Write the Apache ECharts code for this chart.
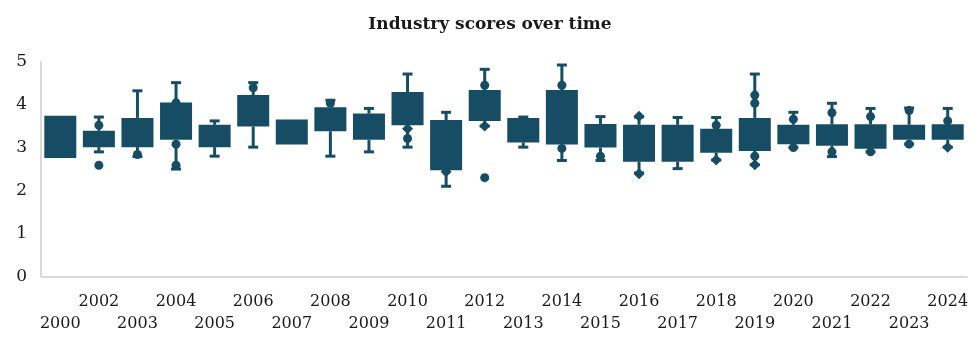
<!DOCTYPE html>
<html>
<head>
<meta charset="utf-8">
<script src="https://cdn.jsdelivr.net/npm/echarts@6/dist/echarts.min.js"></script>
<style>
  html, body { margin: 0; padding: 0; background: #fff; }
  #chart { width: 980px; height: 353px; }
</style>
</head>
<body>
<div id="chart"></div>
<script>
// years on the axis (2001 is not in the data)
var YEARS = ['2000', '2002', '2003', '2004', '2005', '2006', '2007', '2008', '2009', '2010', '2011', '2012',
  '2013', '2014', '2015', '2016', '2017', '2018', '2019', '2020', '2021', '2022', '2023', '2024'];
var LOWS  = [2.77, 2.91, 2.80, 2.51, 2.81, 3.02, 3.08, 2.81, 2.91, 3.02, 2.11, 3.51,
  3.02, 2.71, 2.71, 2.42, 2.52, 2.72, 2.61, 3.01, 2.80, 2.91, 3.09, 3.02];
var Q1S   = [2.77, 3.02, 3.02, 3.19, 3.02, 3.50, 3.08, 3.39, 3.19, 3.53, 2.48, 3.63,
  3.13, 3.08, 3.01, 2.68, 2.68, 2.89, 2.93, 3.09, 3.05, 2.98, 3.19, 3.19];
var Q3S   = [3.75, 3.40, 3.70, 4.06, 3.54, 4.23, 3.66, 3.95, 3.80, 4.30, 3.65, 4.35,
  3.70, 4.35, 3.56, 3.54, 3.54, 3.45, 3.70, 3.54, 3.55, 3.55, 3.54, 3.55];
var HIGHS = [3.75, 3.72, 4.33, 4.52, 3.63, 4.52, 3.66, 4.11, 3.92, 4.72, 3.83, 4.83,
  3.72, 4.93, 3.73, 3.72, 3.71, 3.71, 4.72, 3.83, 4.04, 3.92, 3.93, 3.92];

// single points drawn over the whiskers
var CIRCLE_POINTS = [
  ['2002', 3.53], ['2002', 2.60], ['2003', 2.85], ['2004', 4.05], ['2004', 3.09], ['2004', 2.60],
  ['2006', 4.40], ['2008', 4.04], ['2010', 3.22], ['2012', 4.46], ['2012', 2.31],
  ['2014', 4.46], ['2014', 2.99], ['2015', 2.81], ['2018', 3.53],
  ['2019', 4.23], ['2019', 4.04], ['2019', 2.81], ['2020', 3.67], ['2020', 3.01],
  ['2021', 3.82], ['2021', 2.91], ['2022', 3.73], ['2022', 2.91], ['2023', 3.87], ['2023', 3.09],
  ['2024', 3.63]
];
var DIAMOND_POINTS = [
  ['2010', 3.45], ['2011', 2.45], ['2012', 3.51], ['2016', 3.74], ['2016', 2.40],
  ['2018', 2.72], ['2019', 2.61], ['2024', 3.02]
];

var Y_TICKS = [0, 1, 2, 3, 4, 5];

var BOX_COLOR = '#174d64';
var FONT = '"DejaVu Serif", "Liberation Serif", serif';

var boxData = YEARS.map(function (y, i) {
  return [i, LOWS[i], Q1S[i], Q3S[i], HIGHS[i]];
});

function renderBox(params, api) {
  var idx = api.value(0);
  var low = api.coord([idx, api.value(1)]);
  var q1 = api.coord([idx, api.value(2)]);
  var q3 = api.coord([idx, api.value(3)]);
  var high = api.coord([idx, api.value(4)]);
  var x = q1[0];
  var bw = api.size([1, 0])[0] * 0.83;
  var cap = 5;
  var lineStyle = { stroke: BOX_COLOR, lineWidth: 3 };
  var kids = [{
    type: 'rect',
    shape: { x: x - bw / 2, y: q3[1], width: bw, height: q1[1] - q3[1] },
    style: { fill: BOX_COLOR }
  }];
  if (high[1] < q3[1] - 0.5) {
    kids.push({ type: 'line', shape: { x1: x, y1: q3[1], x2: x, y2: high[1] }, style: lineStyle });
    kids.push({ type: 'line', shape: { x1: x - cap, y1: high[1], x2: x + cap, y2: high[1] }, style: lineStyle });
  }
  if (low[1] > q1[1] + 0.5) {
    kids.push({ type: 'line', shape: { x1: x, y1: q1[1], x2: x, y2: low[1] }, style: lineStyle });
    kids.push({ type: 'line', shape: { x1: x - cap, y1: low[1], x2: x + cap, y2: low[1] }, style: lineStyle });
  }
  return { type: 'group', children: kids };
}

var chart = echarts.init(document.getElementById('chart'), null, { renderer: 'canvas' });

chart.setOption({
  animation: false,
  title: {
    text: 'Industry scores over time',
    left: 'center',
    top: 11,
    textStyle: { fontFamily: FONT, fontSize: 17, fontWeight: 'bold', color: '#1a1a1a' }
  },
  grid: { left: 41, right: 13, top: 62, bottom: 76, containLabel: false },
  xAxis: {
    type: 'category',
    data: YEARS,
    boundaryGap: true,
    axisLine: { lineStyle: { color: '#d9d9d9', width: 2 } },
    axisTick: { show: false },
    axisLabel: {
      interval: 0,
      margin: 14,
      fontFamily: FONT,
      fontSize: 16,
      lineHeight: 22,
      color: '#1a1a1a',
      formatter: function (v, i) { return i % 2 === 1 ? v : '\n' + v; }
    }
  },
  yAxis: {
    type: 'value',
    min: Y_TICKS[0],
    max: Y_TICKS[Y_TICKS.length - 1],
    interval: 1,
    axisLine: { show: true, lineStyle: { color: '#d9d9d9', width: 2 } },
    axisTick: { show: false },
    splitLine: { show: false },
    axisLabel: { margin: 14, fontFamily: FONT, fontSize: 17, color: '#1a1a1a' }
  },
  series: [
    {
      type: 'custom',
      renderItem: renderBox,
      data: boxData,
      encode: { x: 0, y: [1, 2, 3, 4] },
      z: 2
    },
    {
      type: 'scatter',
      data: CIRCLE_POINTS,
      symbol: 'circle',
      symbolSize: 9,
      itemStyle: { color: BOX_COLOR, opacity: 1 },
      z: 3
    },
    {
      type: 'scatter',
      data: DIAMOND_POINTS,
      symbol: 'diamond',
      symbolSize: 11,
      itemStyle: { color: BOX_COLOR, opacity: 1 },
      z: 3
    }
  ]
});
</script>
</body>
</html>
